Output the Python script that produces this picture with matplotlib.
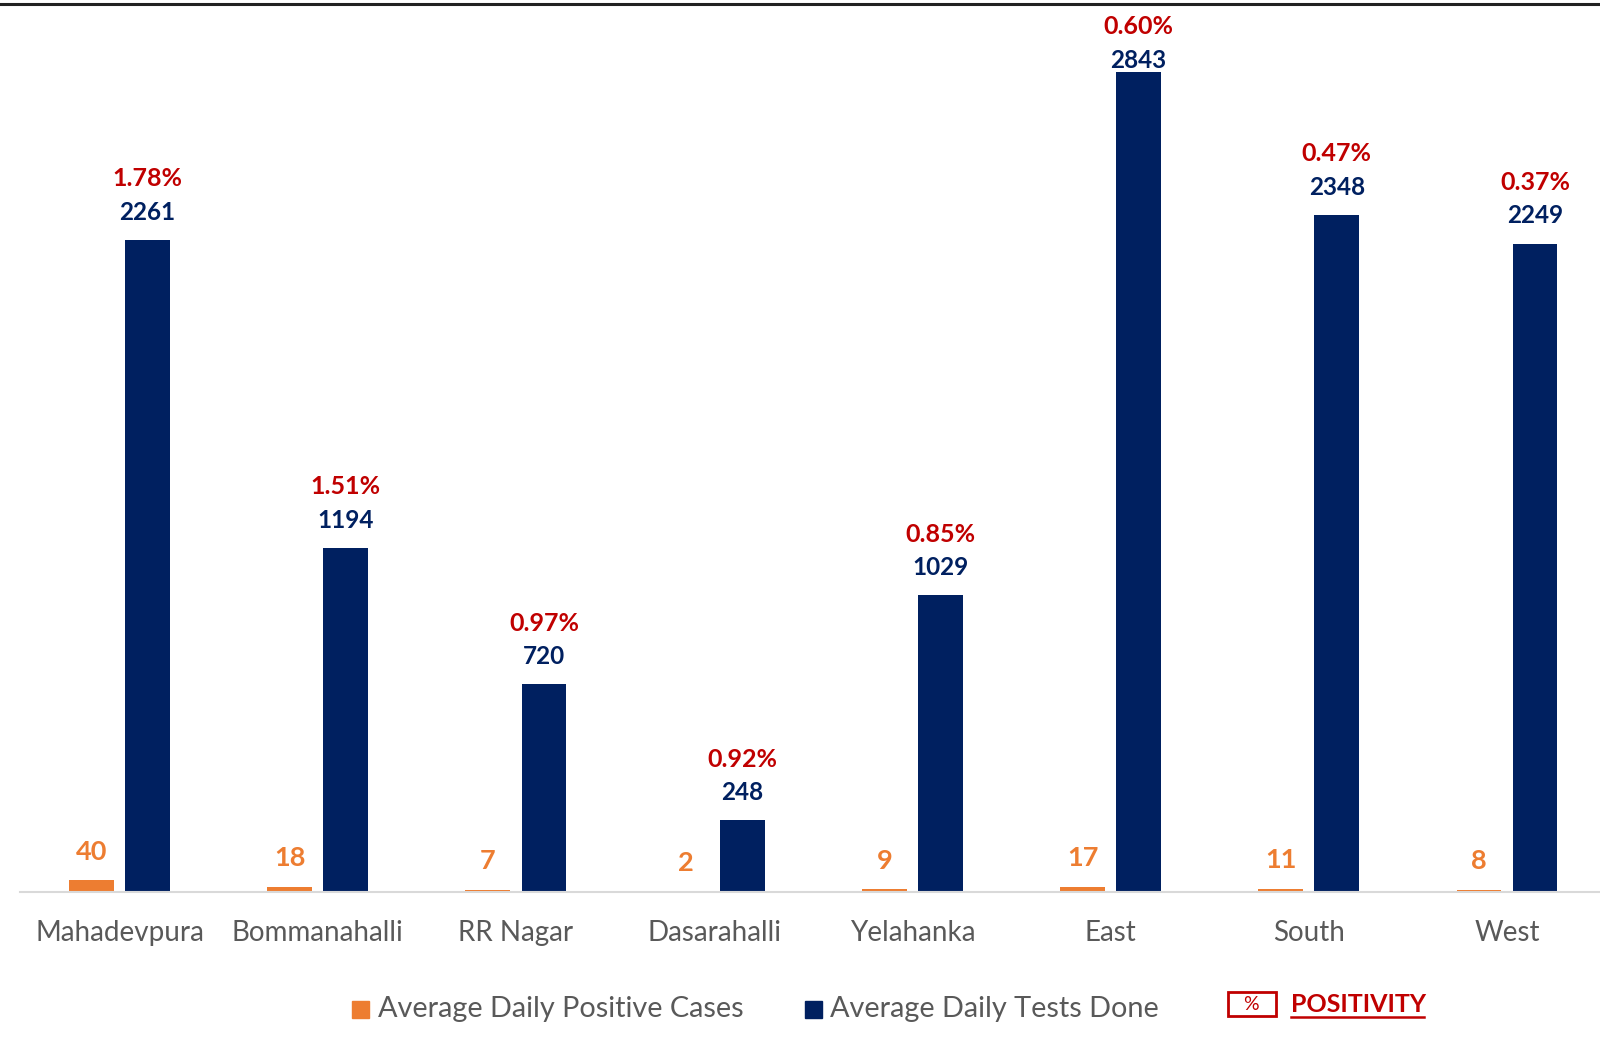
import matplotlib
matplotlib.use("Agg")
import matplotlib.pyplot as plt
import numpy as np
from matplotlib.patches import Rectangle
from matplotlib.lines import Line2D

plt.rcParams['font.family'] = ['Lato', 'DejaVu Sans']

zones = ["Mahadevpura", "Bommanahalli", "RR Nagar", "Dasarahalli", "Yelahanka", "East", "South", "West"]
positive_cases = [40, 18, 7, 2, 9, 17, 11, 8]
tests_done = [2261, 1194, 720, 248, 1029, 2843, 2348, 2249]
positivity = ["1.78%", "1.51%", "0.97%", "0.92%", "0.85%", "0.60%", "0.47%", "0.37%"]

ORANGE = "#ED7D31"
NAVY = "#002060"
RED = "#C00000"
GRAY = "#595959"

# layout reference frame (measured units)
W, H = 1568, 1026
S = 1600 / 1568  # pixel scale
fig = plt.figure(figsize=(16, 10.47), dpi=100)
ax_top, ax_bot = 4, 874
ax = fig.add_axes([20 / W, 1 - ax_bot / H, (1574 - 20) / W, (ax_bot - ax_top) / H])

x = np.arange(len(zones))
bw = 0.226
off = 0.1415
ax.bar(x - off, positive_cases, bw, color=ORANGE)
ax.bar(x + off, tests_done, bw, color=NAVY)
ymax = 870 / 0.2825
ax.set_xlim(-0.5, len(zones) - 0.5)
ax.set_ylim(0, ymax)

px_per_unit = (ax_bot - ax_top) / ymax
for i in range(len(zones)):
    ax.annotate(str(positive_cases[i]), (x[i] - off, positive_cases[i]), xytext=(0, 28 * S),
                textcoords="offset pixels", ha="center", va="center",
                color=ORANGE, fontsize=19.5, fontweight="bold")
    bar_top = ax_bot - tests_done[i] * px_per_unit
    pct_off = min(60, bar_top - 26)
    val_off = pct_off - 33
    ax.annotate(str(tests_done[i]), (x[i] + off, tests_done[i]), xytext=(0, val_off * S),
                textcoords="offset pixels", ha="center", va="center",
                color=NAVY, fontsize=17.5, fontweight="bold")
    ax.annotate(positivity[i], (x[i] + off, tests_done[i]), xytext=(0, pct_off * S),
                textcoords="offset pixels", ha="center", va="center",
                color=RED, fontsize=18, fontweight="bold")

for s in ["top", "right", "left"]:
    ax.spines[s].set_visible(False)
ax.spines["bottom"].set_color("#D9D9D9")
ax.spines["bottom"].set_linewidth(1.5)
ax.set_yticks([])
ax.set_xticks(x)
ax.set_xticklabels(zones, fontsize=20, color=GRAY)
ax.tick_params(axis="x", length=0, pad=20)

# top border line
fig.add_artist(Line2D([0, 1], [1 - 4 / H, 1 - 4 / H], color="#222222", lw=2.2))

# legend
ly = 1 - 989 / H
sq = 17
fig.add_artist(Rectangle((345 / W, ly - sq / 2 / H), sq / W, sq / H, color=ORANGE, transform=fig.transFigure))
fig.text(370 / W, ly, "Average Daily Positive Cases", fontsize=20.8, color=GRAY, va="center", ha="left")
fig.add_artist(Rectangle((789 / W, ly - sq / 2 / H), sq / W, sq / H, color=NAVY, transform=fig.transFigure))
fig.text(813 / W, ly, "Average Daily Tests Done", fontsize=20.8, color=GRAY, va="center", ha="left")

py = 1 - 984 / H
fig.add_artist(Rectangle((1203 / W, 1 - 996 / H), 47 / W, 24 / H, fill=False, edgecolor=RED, lw=2,
                         transform=fig.transFigure))
fig.text(1226 / W, py, "%", fontsize=14, color=RED, va="center", ha="center")
fig.text(1265 / W, py, "POSITIVITY", fontsize=18, color=RED, va="center", ha="left", fontweight="bold")
fig.add_artist(Line2D([1265 / W, 1396 / W], [1 - 997 / H, 1 - 997 / H], color=RED, lw=1.8))

fig.savefig("out.png", dpi=100, facecolor="white")
